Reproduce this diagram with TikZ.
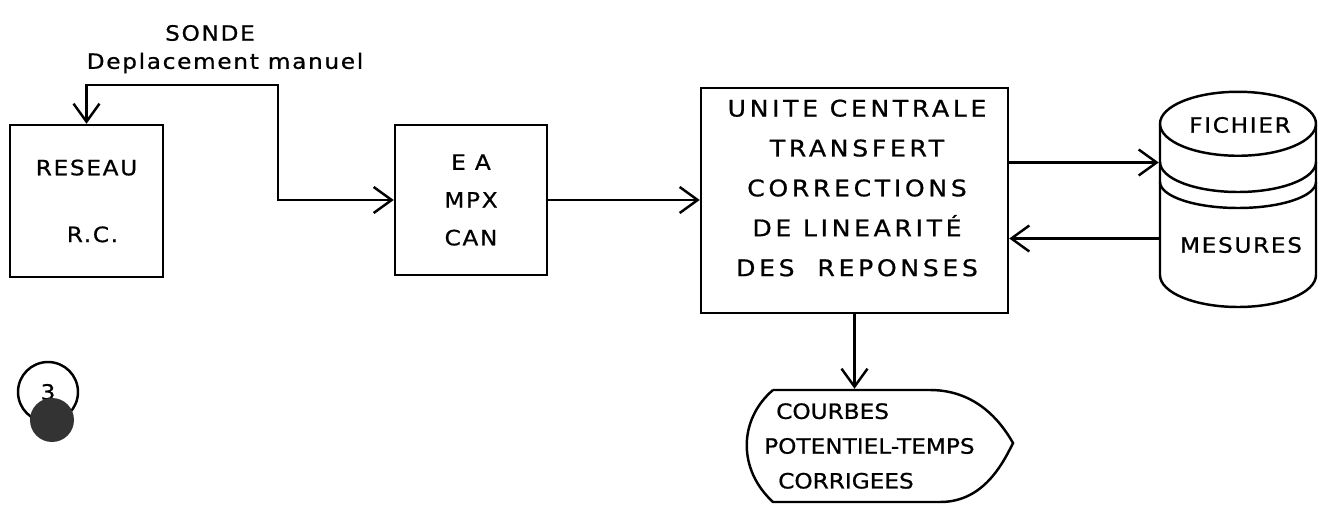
\documentclass[tikz,border=0pt]{standalone}
\usepackage{fontspec}
\setmainfont{DejaVu Sans}[FakeStretch=1.1,LetterSpace=8,FakeBold=0.8]
\usetikzlibrary{arrows.meta}

\begin{document}
\begin{tikzpicture}[every node/.style={font=\fontsize{12}{21.5}\selectfont},
        line width=1.4pt, >={Straight Barb[length=3.6mm,width=5.2mm]}]
        \useasboundingbox (0,0) rectangle (26.46,-10.22);
        \node[draw, minimum width=3.06cm, minimum height=3.04cm, align=center] (reseau) at (1.73,-4.02) {RESEAU\\[5.8mm]\hspace*{2.4mm}R.C.};
        \node (sondetxt) at (4.2,-0.66) {SONDE};
        \node (deplace) at (4.5,-1.26) {Deplacement manuel};
        \coordinate (sonde) at (5.56,-1.7);
        \node[draw, minimum width=3.04cm, minimum height=3cm, align=center] (ea) at (9.42,-4.0) {E A\\MPX\\CAN};
        \node[draw, minimum width=6.14cm, minimum height=4.5cm] (uc) at (17.09,-4.01) {};
        \node[align=center, font=\fontsize{13}{22.7}\selectfont\addfontfeature{LetterSpace=16}] (uctext) at (17.14,-3.76) {UNITE CENTRALE\\TRANSFERT\\CORRECTIONS\\DE LINEARITÉ\\DES\quad REPONSES};
        % fichier de mesures
        \node[minimum width=3.12cm, minimum height=4.28cm] (disk) at (24.76,-4.0) {};
        \draw (disk.north) ++(0,-0.64) ellipse [x radius=1.56, y radius=0.64];
        \draw (23.2,-2.5) -- (23.2,-5.5) arc[start angle=180, end angle=360, x radius=1.56, y radius=0.64] -- (26.32,-2.5);
        \draw (23.2,-3.24) arc[start angle=180, end angle=360, x radius=1.56, y radius=0.6];
        \draw (23.2,-3.64) arc[start angle=180, end angle=360, x radius=1.56, y radius=0.52];
        \node (fichier) at (24.8,-2.5) {FICHIER};
        \node (mesures) at (24.82,-4.9) {MESURES};
        % sortie
        \node[align=left, anchor=west, minimum height=2.24cm, inner xsep=0pt, font=\fontsize{12}{19.8}\selectfont\addfontfeature{LetterSpace=0}] (courbes) at (15.26,-8.92) {\hspace*{2.4mm}COURBES\\POTENTIEL-TEMPS\\\hspace*{2.8mm}CORRIGEES};
        \draw (15.46,-7.8) -- (18.6,-7.8) .. controls (19.5,-7.8) and (20.0,-8.4) .. (20.26,-8.86) .. controls (20.0,-9.4) and (19.6,-10.04) .. (18.8,-10.04) -- (15.46,-10.04) .. controls (14.76,-9.4) and (14.76,-8.4) .. (15.46,-7.8);
        \node[draw, circle, minimum size=1.2cm, inner sep=0pt] (page) at (0.96,-7.84) {3};
        \fill[black!80] (1.04,-8.4) circle (0.44);
        \draw[<->] (reseau.north) |- (sonde) |- (ea.west);
        \draw[->] (ea.east) -- (ea.east -| uc.west);
        \draw[->] ([yshift=7.6mm]uc.east) -- ([yshift=7.6mm]uc.east -| disk.west);
        \draw[<-] ([yshift=-7.6mm]uc.east) -- ([yshift=-7.6mm]uc.east -| disk.west);
        \draw[->] (uc.south) -- (uc.south |- courbes.north);
    \end{tikzpicture}
\end{document}
